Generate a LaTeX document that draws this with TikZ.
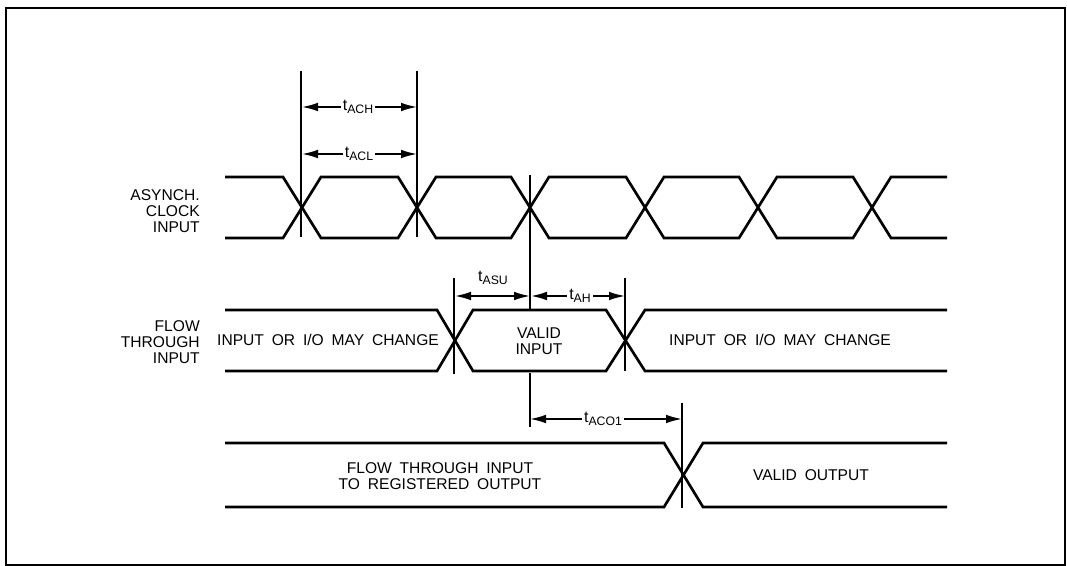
\documentclass[tikz,border=0pt]{standalone}
\usepackage{fontspec}
\setmainfont[WordSpace=1.8]{Liberation Sans}
\usetikzlibrary{arrows.meta}
\tikzset{
  wave/.style={line width=2pt,line join=miter},
  tick/.style={line width=1.6pt},
  dim/.style={line width=1.3pt,{Latex[length=12pt,width=6.5pt]}-{Latex[length=12pt,width=6.5pt]}},
  lab/.style={inner sep=0pt,align=center,font=\fontsize{11.7pt}{12pt}\selectfont},
  sidelab/.style={lab,align=right,anchor=east},
  tlab/.style={fill=white,inner sep=1.5pt,font=\fontsize{12pt}{13pt}\selectfont},
}
\newcommand{\tsub}[1]{t\raisebox{-2.2pt}{\fontsize{9.2pt}{10pt}\selectfont #1}}
\begin{document}
\begin{tikzpicture}[x=0.75pt,y=-0.75pt]
\useasboundingbox (0,0) rectangle (1067,566);
\fill[white] (0,0) rectangle (1067,566);
\draw[line width=1.6pt] (6,8) rectangle (1065,565);
% clock
\draw[wave] (225,177) -- (283,177) -- (321,238) -- (398,238) -- (436,177) -- (511,177) -- (549,238) -- (626,238) -- (664,177) -- (739,177) -- (777,238) -- (853,238) -- (891,177) -- (947,177);
\draw[wave] (225,238) -- (283,238) -- (321,177) -- (398,177) -- (436,238) -- (511,238) -- (549,177) -- (626,177) -- (664,238) -- (739,238) -- (777,177) -- (853,177) -- (891,238) -- (947,238);
% flow through
\draw[wave] (225,310) -- (437,310) -- (473,371) -- (606,371) -- (645,310) -- (947,310);
\draw[wave] (225,371) -- (437,371) -- (473,310) -- (606,310) -- (645,371) -- (947,371);
% output
\draw[wave] (225,443) -- (664,443) -- (703,507) -- (947,507);
\draw[wave] (225,507) -- (664,507) -- (703,443) -- (947,443);
% ticks
\coordinate (a1) at (301,71); \coordinate (a2) at (301,237);
\coordinate (b1) at (417,71); \coordinate (b2) at (417,237);
\coordinate (c1) at (530,175); \coordinate (c2) at (530,310);
\coordinate (c3) at (530,373); \coordinate (c4) at (530,427);
\coordinate (d1) at (454,278); \coordinate (d2) at (454,374);
\coordinate (e1) at (625,278); \coordinate (e2) at (625,371);
\coordinate (f1) at (682,403); \coordinate (f2) at (682,508);
\draw[tick] (a1)--(a2) (b1)--(b2) (c1)--(c2) (c3)--(c4) (d1)--(d2) (e1)--(e2) (f1)--(f2);
% dims
\draw[dim] (302,107) -- (417,107);
\node[tlab] (tach) at (358,107) {\tsub{ACH}};
\draw[dim] (302,154) -- (417,154);
\node[tlab] (tacl) at (359,154) {\tsub{ACL}};
\draw[dim] (455,296) -- (530,296);
\node[tlab,fill=none] (tasu) at (493,278) {\tsub{ASU}};
\draw[dim] (531,296) -- (625,296);
\node[tlab] (tah) at (580,296) {\tsub{AH}};
\draw[dim] (530,419) -- (682,419);
\node[tlab] (taco) at (603,419) {\tsub{ACO1}};
% labels
\node[sidelab] (n1) at (200,211) {ASYNCH.\\CLOCK\\INPUT};
\node[sidelab] (n2) at (200,342) {FLOW\\THROUGH\\INPUT};
\node[lab] (n3) at (328,340) {INPUT OR I/O MAY CHANGE};
\node[lab] (n4) at (539,341) {VALID\\INPUT};
\node[lab] (n5) at (780,340) {INPUT OR I/O MAY CHANGE};
\node[lab] (n6) at (440,476) {FLOW THROUGH INPUT\\TO REGISTERED OUTPUT};
\node[lab] (n7) at (811,475) {VALID OUTPUT};
\end{tikzpicture}
\end{document}
